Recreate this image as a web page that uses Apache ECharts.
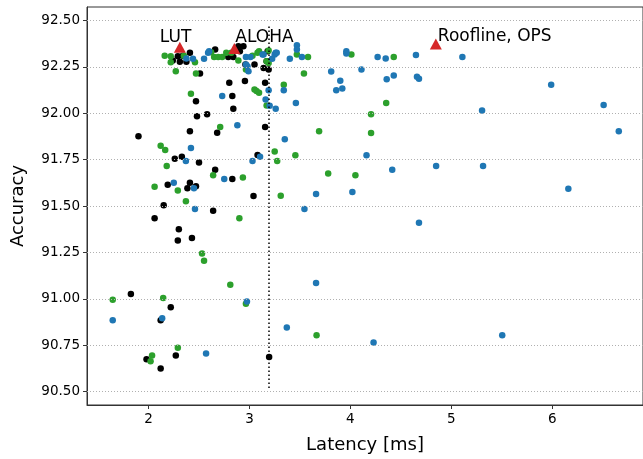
<!DOCTYPE html>
<html>
<head>
<meta charset="utf-8">
<script src="https://cdn.jsdelivr.net/npm/echarts@6/dist/echarts.min.js"></script>
<style>
  html, body { margin: 0; padding: 0; background: #fff; }
  #chart { width: 643px; height: 459px; }
</style>
</head>
<body>
<div id="chart"></div>
<script>
// Latency [ms] vs. accuracy for three groups of searched configurations
const blackPts = [
  [2.29, 92.307], [2.31, 92.277], [2.24, 92.284], [2.34, 92.31], [2.375, 92.277],
  [2.41, 92.325], [2.51, 92.214], [2.47, 92.064], [2.48, 91.983], [2.58, 91.994],
  [1.90, 91.876], [2.41, 91.903], [2.68, 91.894], [2.66, 92.343], [2.79, 92.303],
  [2.84, 92.303], [2.89, 92.36], [2.94, 92.36], [2.905, 92.334], [2.80, 92.164],
  [2.83, 92.092], [2.84, 92.024], [2.96, 92.262], [2.955, 92.173], [3.05, 92.262],
  [3.14, 92.244], [3.19, 92.235], [3.155, 92.164], [3.155, 91.926], [3.18, 92.334],
  [3.17, 92.28], [2.26, 91.754], [2.33, 91.765], [2.50, 91.734], [2.66, 91.695],
  [2.83, 91.645], [3.08, 91.775], [2.19, 91.614], [2.41, 91.625], [2.385, 91.595],
  [2.47, 91.606], [2.15, 91.504], [2.64, 91.475], [3.04, 91.554], [2.06, 91.434],
  [2.30, 91.375], [2.43, 91.327], [2.29, 91.314], [1.825, 91.026], [2.22, 90.954],
  [2.12, 90.884], [1.98, 90.675], [2.27, 90.695], [2.12, 90.625], [3.195, 90.686]
];

const greenPts = [
  [2.16, 92.31], [2.22, 92.307], [2.22, 92.275], [2.27, 92.226], [2.35, 92.31],
  [2.46, 92.275], [2.47, 92.214], [2.42, 92.105], [2.71, 91.926], [2.62, 92.328],
  [2.65, 92.303], [2.69, 92.303], [2.73, 92.303], [2.77, 92.325], [2.82, 92.325],
  [2.89, 92.284], [2.965, 92.235], [3.05, 92.128], [3.07, 92.119], [3.095, 92.11],
  [3.08, 92.325], [3.095, 92.334], [3.03, 92.31], [3.17, 92.28], [3.17, 92.042],
  [3.19, 92.27], [3.19, 92.337], [3.47, 92.316], [3.58, 92.303], [4.01, 92.316],
  [4.43, 92.303], [3.54, 92.214], [3.34, 92.153], [4.355, 92.055], [4.205, 91.994],
  [4.205, 91.893], [3.69, 91.903], [2.12, 91.824], [2.165, 91.802], [2.18, 91.715],
  [2.64, 91.665], [2.935, 91.654], [3.25, 91.794], [3.275, 91.743], [3.455, 91.774],
  [3.78, 91.675], [4.05, 91.665], [2.06, 91.604], [2.29, 91.584], [2.37, 91.525],
  [3.31, 91.555], [2.90, 91.434], [2.53, 91.244], [2.55, 91.205], [2.81, 91.076],
  [1.645, 90.995], [2.145, 91.004], [2.965, 90.974], [3.665, 90.804], [2.29, 90.736],
  [2.035, 90.695], [2.02, 90.664]
];

const bluePts = [
  [2.375, 92.294], [2.44, 92.293], [2.55, 92.293], [2.59, 92.325], [2.60, 92.334],
  [2.73, 92.092], [2.88, 91.935], [2.965, 92.303], [2.965, 92.262], [2.98, 92.253],
  [2.99, 92.226], [3.01, 92.303], [3.13, 92.316], [3.14, 92.316], [3.19, 92.124],
  [3.16, 92.074], [3.20, 92.04], [3.26, 92.024], [3.25, 92.316], [3.26, 92.325],
  [3.225, 92.293], [3.47, 92.366], [3.47, 92.343], [3.52, 92.303], [3.40, 92.293],
  [3.27, 92.325], [3.96, 92.334], [3.96, 92.322], [4.27, 92.303], [4.35, 92.294],
  [4.65, 92.314], [3.81, 92.225], [4.11, 92.235], [3.90, 92.175], [3.86, 92.124],
  [3.92, 92.133], [4.36, 92.183], [4.43, 92.203], [4.66, 92.196], [4.68, 92.185],
  [3.34, 92.124], [3.46, 92.055], [3.35, 91.86], [5.11, 92.303], [5.99, 92.153],
  [5.305, 92.014], [6.51, 92.044], [6.66, 91.903], [2.42, 91.813], [2.37, 91.743],
  [2.75, 91.645], [3.03, 91.743], [3.105, 91.765], [2.25, 91.625], [2.45, 91.595],
  [2.46, 91.484], [4.16, 91.774], [4.415, 91.695], [3.66, 91.565], [4.02, 91.575],
  [3.545, 91.484], [4.68, 91.41], [4.85, 91.715], [5.315, 91.715], [6.16, 91.593],
  [1.645, 90.884], [2.135, 90.895], [2.975, 90.985], [2.57, 90.706], [3.66, 91.085],
  [3.37, 90.845], [4.23, 90.765], [5.505, 90.804]
];

// Reference designs marked with red triangles
const refNames = ['LUT', 'ALOHA', 'Roofline, OPS'];
const refPts = [[2.31, 92.355], [2.85, 92.348], [4.847, 92.373]];

// Latency budget line
const budgetX = 3.19;
const budgetRange = [90.52, 92.48];

const xTicks = [2, 3, 4, 5, 6];
const yTicks = [90.50, 90.75, 91.00, 91.25, 91.50, 91.75, 92.00, 92.25, 92.50];

const FONT = '"DejaVu Sans", sans-serif';
const labelOffsets = [[-20, 9], [1, 8], [2, 12]];

const chart = echarts.init(document.getElementById('chart'), null, { renderer: 'canvas' });

chart.setOption({
  animation: false,
  backgroundColor: '#ffffff',
  grid: {
    left: 87, right: -5, top: 7, bottom: 52,
    show: true, borderColor: '#333', borderWidth: 1, backgroundColor: 'transparent'
  },
  xAxis: {
    type: 'value', min: 1.39, max: 6.9,
    name: 'Latency [ms]', nameLocation: 'middle', nameGap: 31,
    nameTextStyle: { fontFamily: FONT, fontSize: 18, color: '#000' },
    axisLine: { show: true, onZero: false, lineStyle: { color: '#333', width: 1 } },
    axisTick: { show: true, length: 4, customValues: xTicks, lineStyle: { color: '#333' } },
    axisLabel: { customValues: xTicks, fontFamily: FONT, fontSize: 13.5, color: '#000', margin: 7,
                 formatter: v => String(v) },
    splitLine: { show: false }
  },
  yAxis: {
    type: 'value', min: 90.428, max: 92.572,
    name: 'Accuracy', nameLocation: 'middle', nameGap: 60, nameRotate: 90,
    nameTextStyle: { fontFamily: FONT, fontSize: 18, color: '#000' },
    axisLine: { show: true, onZero: false, lineStyle: { color: '#333', width: 1 } },
    axisTick: { show: true, length: 4, customValues: yTicks, lineStyle: { color: '#333' } },
    axisLabel: { customValues: yTicks, fontFamily: FONT, fontSize: 13.5, color: '#000', margin: 7,
                 formatter: v => v.toFixed(2) },
    splitLine: { show: false }
  },
  series: [
    {
      // horizontal grid lines and the latency budget line
      type: 'scatter', data: [], z: 1, silent: true,
      markLine: {
        silent: true, symbol: 'none', animation: false,
        label: { show: false },
        data: yTicks.map(t => ({ yAxis: t, lineStyle: { color: '#b0b0b0', width: 1, type: [1, 2] } }))
          .concat([[
            { coord: [budgetX, budgetRange[0]], lineStyle: { color: '#000', width: 1.5, type: [1.5, 2.5] } },
            { coord: [budgetX, budgetRange[1]] }
          ]])
      }
    },
    {
      type: 'scatter', data: blackPts, symbol: 'circle', symbolSize: 6.5, z: 2,
      itemStyle: { color: '#000000', opacity: 1 }
    },
    {
      type: 'scatter', data: greenPts, symbol: 'circle', symbolSize: 6.5, z: 3,
      itemStyle: { color: '#2ca02c', opacity: 1 }
    },
    {
      type: 'scatter', data: bluePts, symbol: 'circle', symbolSize: 6.5, z: 4,
      itemStyle: { color: '#1f77b4', opacity: 1 }
    },
    {
      type: 'scatter', symbol: 'triangle', symbolSize: [12, 11], z: 5,
      itemStyle: { color: '#d62728', opacity: 1 },
      data: refPts.map((p, i) => ({
        name: refNames[i], value: p,
        label: {
          show: true, position: 'top', align: 'left', verticalAlign: 'bottom',
          offset: labelOffsets[i], formatter: refNames[i],
          fontFamily: FONT, fontSize: 17, color: '#000'
        }
      }))
    }
  ]
});
</script>
</body>
</html>
